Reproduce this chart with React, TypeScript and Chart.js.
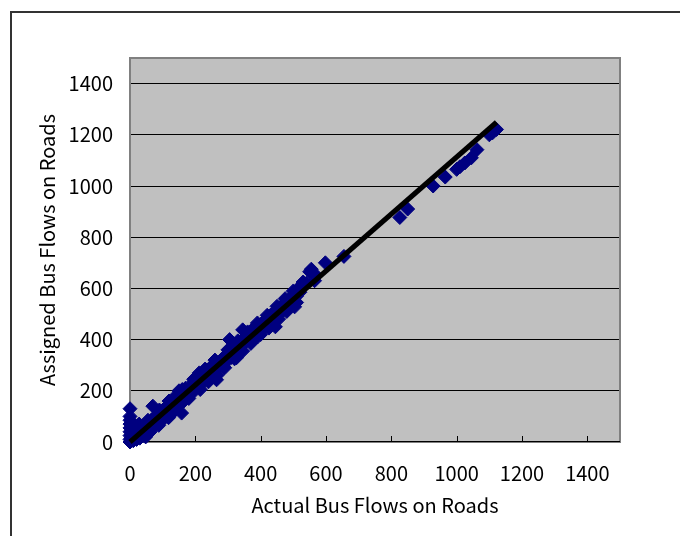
import React, { useEffect, useRef } from "react";
import { Chart, registerables } from "chart.js";

Chart.register(...registerables);

const xTickValues = [0, 200, 400, 600, 800, 1000, 1200, 1400];
const yTickValues = [0, 200, 400, 600, 800, 1000, 1200, 1400];

const xTitle = "Actual Bus Flows on Roads";
const yTitle = "Assigned Bus Flows on Roads";

// Actual bus flows (x) and assigned bus flows (y)
const actualFlows = [
  0, 0, 0, 0, 0, 0, 0, 0, 0, 3, 5, 8, 10, 12, 15, 18, 20, 22, 25, 28,
  30, 35, 38, 40, 45, 48, 50, 55, 60, 62, 65, 70, 72, 75, 80, 85, 88, 90, 95, 100,
  105, 110, 115, 118, 120, 125, 130, 135, 140, 142, 148, 150, 155, 160, 165, 170, 175, 180, 185, 190,
  195, 200, 205, 210, 212, 218, 222, 225, 230, 235, 240, 245, 250, 255, 260, 265, 270, 275, 280, 285,
  290, 295, 300, 305, 310, 315, 320, 326, 330, 335, 340, 345, 350, 355, 360, 365, 370, 375, 380, 385,
  391, 395, 400, 405, 410, 415, 420, 425, 430, 435, 440, 445, 450, 455, 460, 465, 470, 475, 480, 485,
  490, 495, 500, 504, 505, 510, 515, 520, 525, 530, 540, 550, 555, 565, 570, 598, 655,
  826, 850, 928, 965, 1000, 1010, 1025, 1045, 1062, 1100, 1110, 1122,
  40, 60, 95, 130, 158, 180, 215, 240, 268, 290, 320, 345, 370, 400, 425, 455, 480, 510,
  55, 90, 120, 160, 195, 230, 260, 300, 330, 360, 390, 420, 450, 475, 500, 530,
];
const assignedFlows = [
  0, 10, 25, 40, 55, 70, 85, 100, 130, 15, 30, 50, 5, 20, 60, 35, 10, 45, 25, 70,
  15, 40, 55, 30, 50, 20, 65, 45, 70, 40, 85, 140, 60, 95, 75, 110, 65, 100, 120, 90,
  130, 110, 140, 95, 160, 130, 150, 120, 180, 140, 165, 200, 150, 185, 160, 210, 175, 200, 215, 190,
  235, 215, 240, 225, 270, 250, 230, 265, 250, 280, 255, 290, 270, 300, 280, 243, 310, 295, 320, 300,
  335, 315, 345, 400, 330, 360, 340, 329, 380, 365, 395, 438, 385, 410, 400, 425, 410, 440, 420, 450,
  411, 445, 460, 440, 470, 455, 480, 465, 495, 475, 505, 450, 500, 520, 505, 530, 515, 545, 530, 555,
  540, 565, 555, 528, 580, 570, 600, 585, 610, 625, 620, 665, 675, 630, 650, 700, 725,
  877, 910, 1000, 1035, 1065, 1075, 1090, 1110, 1142, 1200, 1208, 1221,
  25, 45, 80, 115, 113, 170, 205, 235, 262, 290, 325, 355, 385, 420, 445, 480, 510, 545,
  85, 125, 160, 205, 245, 285, 320, 360, 395, 430, 465, 495, 530, 560, 590, 620,
];

// Fitted line end points
const lineX = [0, 1122];
const lineY = [0, 1249];

const plotBackground = {
  id: "plotBackground",
  beforeDraw(chart: any) {
    const { ctx, chartArea } = chart;
    ctx.save();
    ctx.fillStyle = "#c0c0c0";
    ctx.fillRect(chartArea.left, chartArea.top, chartArea.right - chartArea.left, chartArea.bottom - chartArea.top);
    ctx.restore();
  },
  beforeDatasetsDraw(chart: any) {
    const { ctx, chartArea, scales } = chart;
    ctx.save();
    ctx.strokeStyle = "#808080";
    ctx.lineWidth = 2;
    ctx.strokeRect(chartArea.left, chartArea.top, chartArea.right - chartArea.left, chartArea.bottom - chartArea.top);
    ctx.strokeStyle = "#000000";
    ctx.lineWidth = 1;
    ctx.beginPath();
    ctx.moveTo(chartArea.left, chartArea.bottom - 0.5);
    ctx.lineTo(chartArea.right, chartArea.bottom - 0.5);
    for (const v of xTickValues) {
      const px = Math.round(scales.x.getPixelForValue(v)) + 0.5;
      ctx.moveTo(px, chartArea.bottom);
      ctx.lineTo(px, chartArea.bottom - 6);
    }
    ctx.stroke();
    ctx.restore();
  },
};

export default function App() {
  const canvasRef = useRef<HTMLCanvasElement>(null);

  useEffect(() => {
    if (!canvasRef.current) return;
    const font = "'Noto Sans CJK JP', 'Liberation Sans', sans-serif";
    Chart.defaults.font.family = font;
    Chart.defaults.color = "#000000";
    const points = actualFlows.map((x, i) => ({ x, y: assignedFlows[i] }));
    const line = lineX.map((x, i) => ({ x, y: lineY[i] }));
    const chart = new Chart(canvasRef.current, {
      type: "scatter",
      data: {
        datasets: [
          {
            type: "line",
            data: line,
            borderColor: "#000000",
            borderWidth: 5,
            pointRadius: 0,
            order: 0,
            clip: false,
          } as any,
          {
            type: "scatter",
            data: points,
            pointStyle: "rectRot",
            pointRadius: 7,
            backgroundColor: "#000080",
            borderColor: "#000080",
            borderWidth: 1,
            order: 1,
            clip: false,
          } as any,
        ],
      },
      options: {
        animation: false,
        responsive: false,
        layout: { padding: { left: 0, top: 58, right: 60, bottom: 0 } },
        plugins: { legend: { display: false }, tooltip: { enabled: false } },
        scales: {
          x: {
            type: "linear",
            min: 0,
            max: 1500,
            afterBuildTicks: (scale: any) => {
              scale.ticks = xTickValues.map((v) => ({ value: v }));
            },
            afterFit: (scale: any) => {
              scale.height = 94;
            },
            grid: { display: false, drawTicks: false },
            border: { display: false },
            ticks: { padding: 19, font: { size: 20 }, color: "#000", callback: (v: any) => String(v) },
            title: { display: true, text: xTitle, font: { size: 20 }, color: "#000", padding: { top: 0, bottom: 19 } },
          },
          y: {
            type: "linear",
            min: 0,
            max: 1500,
            afterBuildTicks: (scale: any) => {
              scale.ticks = yTickValues.map((v) => ({ value: v }));
            },
            afterFit: (scale: any) => {
              scale.width = 130;
            },
            grid: { color: "#000000", lineWidth: 1, drawTicks: false },
            border: { display: false },
            ticks: { padding: 17, font: { size: 20 }, color: "#000", callback: (v: any) => String(v) },
            title: { display: true, text: yTitle, font: { size: 20 }, color: "#000", padding: { top: 35, bottom: 0 } },
          },
        },
      },
      plugins: [plotBackground],
    });
    return () => chart.destroy();
  }, []);

  return (
    <div style={{ position: "absolute", left: 0, top: 0, width: 680, height: 536, overflow: "hidden", background: "#fff" }}>
      <canvas ref={canvasRef} width={680} height={536} style={{ display: "block" }} />
      <div
        style={{
          position: "absolute",
          left: 10,
          top: 11,
          width: 700,
          height: 600,
          border: "2px solid #333",
          boxSizing: "border-box",
          pointerEvents: "none",
        }}
      />
    </div>
  );
}
